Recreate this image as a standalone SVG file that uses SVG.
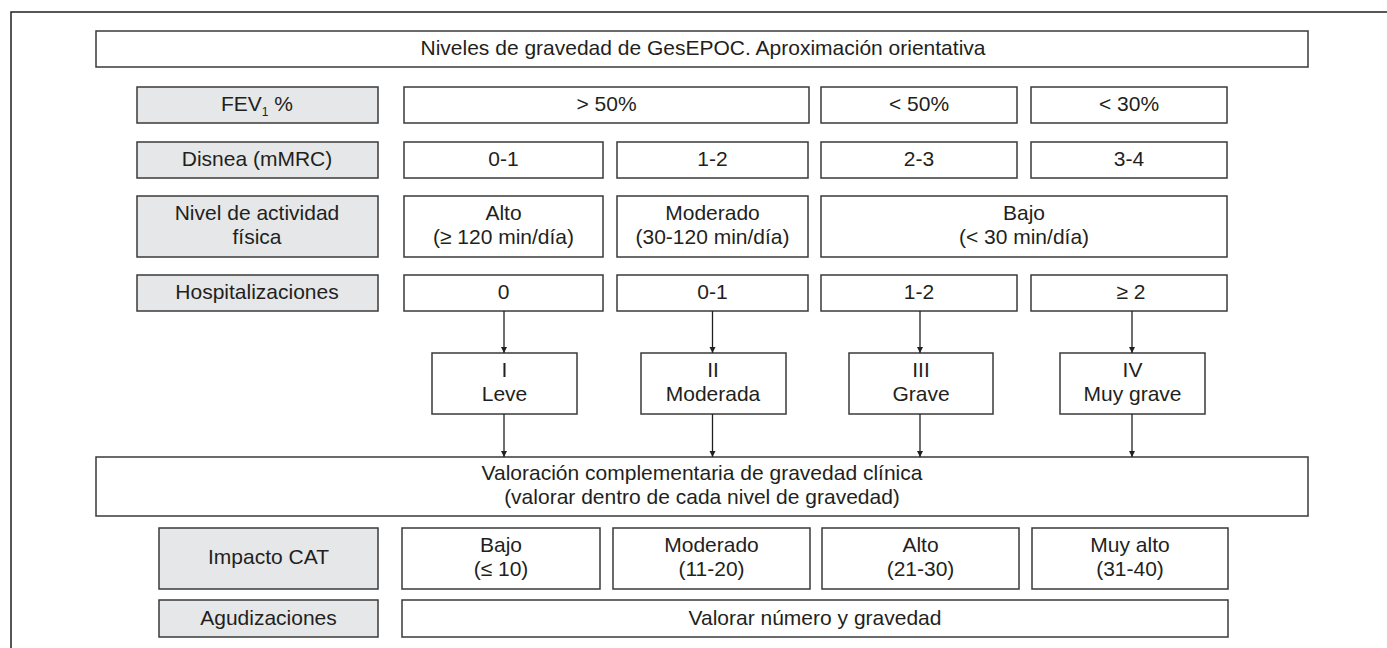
<svg xmlns="http://www.w3.org/2000/svg" width="1387" height="648" viewBox="0 0 1387 648">
<defs>
<style>
.b{fill:#fff;stroke:#3a3a3a;stroke-width:1.5}
.g{fill:#e6e7e8;stroke:#3a3a3a;stroke-width:1.5}
text{font-family:"Liberation Sans",Arial,sans-serif;font-size:21px;fill:#231f20;text-anchor:middle}
.c{stroke:#231f20;stroke-width:1.3;fill:none;marker-end:url(#ah)}
</style>
<marker id="ah" viewBox="0 0 10 10" refX="10" refY="5" markerWidth="6" markerHeight="10" markerUnits="userSpaceOnUse" orient="auto">
<path d="M0,0 L10,5 L0,10 z" fill="#231f20"/>
</marker>
</defs>
<rect width="1387" height="648" fill="#fff"/>
<path d="M11,648 L11,12 L1387,12" fill="none" stroke="#231f20" stroke-width="1.5"/>

<g id="title"><rect class="b" x="96" y="31" width="1212" height="36"/><text x="703" y="55">Niveles de gravedad de GesEPOC. Aproximación orientativa</text></g>

<g id="fev-label"><rect class="g" x="137" y="87" width="241" height="36"/><text x="257" y="111">FEV<tspan font-size="12" dy="5">1</tspan><tspan dy="-5"> %</tspan></text></g>
<g id="fev-gt50"><rect class="b" x="404" y="87" width="405" height="36"/><text x="606.5" y="111">&gt; 50%</text></g>
<g id="fev-lt50"><rect class="b" x="821" y="87" width="196" height="36"/><text x="919" y="111">&lt; 50%</text></g>
<g id="fev-lt30"><rect class="b" x="1031" y="87" width="196" height="36"/><text x="1129" y="111">&lt; 30%</text></g>

<g id="disnea-label"><rect class="g" x="137" y="142" width="241" height="36"/><text x="257" y="166">Disnea (mMRC)</text></g>
<g id="disnea-01"><rect class="b" x="404" y="142" width="199" height="36"/><text x="503.5" y="166">0-1</text></g>
<g id="disnea-12"><rect class="b" x="617" y="142" width="191" height="36"/><text x="712.5" y="166">1-2</text></g>
<g id="disnea-23"><rect class="b" x="821" y="142" width="196" height="36"/><text x="919" y="166">2-3</text></g>
<g id="disnea-34"><rect class="b" x="1031" y="142" width="196" height="36"/><text x="1129" y="166">3-4</text></g>

<g id="act-label"><rect class="g" x="137" y="196" width="241" height="61"/><text x="257" y="220">Nivel de actividad</text><text x="257" y="244">física</text></g>
<g id="act-alto"><rect class="b" x="404" y="196" width="199" height="61"/><text x="503.5" y="220">Alto</text><text x="503.5" y="244">(≥ 120 min/día)</text></g>
<g id="act-mod"><rect class="b" x="617" y="196" width="191" height="61"/><text x="712.5" y="220">Moderado</text><text x="712.5" y="244">(30-120 min/día)</text></g>
<g id="act-bajo"><rect class="b" x="821" y="196" width="406" height="61"/><text x="1024" y="220">Bajo</text><text x="1024" y="244">(&lt; 30 min/día)</text></g>

<g id="hosp-label"><rect class="g" x="137" y="275" width="241" height="36"/><text x="257" y="299">Hospitalizaciones</text></g>
<g id="hosp-0"><rect class="b" x="404" y="275" width="199" height="36"/><text x="503.5" y="299">0</text></g>
<g id="hosp-01"><rect class="b" x="617" y="275" width="191" height="36"/><text x="712.5" y="299">0-1</text></g>
<g id="hosp-12"><rect class="b" x="821" y="275" width="196" height="36"/><text x="919" y="299">1-2</text></g>
<g id="hosp-2"><rect class="b" x="1031" y="275" width="196" height="36"/><text x="1131" y="299">≥ 2</text></g>

<g id="sev-1"><rect class="b" x="432" y="353" width="145" height="61"/><text x="504.5" y="377">I</text><text x="504.5" y="401">Leve</text></g>
<g id="sev-2"><rect class="b" x="641" y="353" width="145" height="61"/><text x="713" y="377">II</text><text x="713" y="401">Moderada</text></g>
<g id="sev-3"><rect class="b" x="849" y="353" width="144" height="61"/><text x="921" y="377">III</text><text x="921" y="401">Grave</text></g>
<g id="sev-4"><rect class="b" x="1060" y="353" width="145" height="61"/><text x="1132.5" y="377">IV</text><text x="1132.5" y="401">Muy grave</text></g>

<g id="valoracion"><rect class="b" x="96" y="457" width="1212" height="59"/><text x="702" y="480">Valoración complementaria de gravedad clínica</text><text x="702" y="504">(valorar dentro de cada nivel de gravedad)</text></g>

<g id="cat-label"><rect class="g" x="159" y="528" width="219" height="61"/><text x="268.5" y="564">Impacto CAT</text></g>
<g id="cat-bajo"><rect class="b" x="402" y="528" width="198" height="61"/><text x="501" y="552">Bajo</text><text x="501" y="576">(≤ 10)</text></g>
<g id="cat-mod"><rect class="b" x="613" y="528" width="197" height="61"/><text x="711.5" y="552">Moderado</text><text x="711.5" y="576">(11-20)</text></g>
<g id="cat-alto"><rect class="b" x="822" y="528" width="197" height="61"/><text x="920.5" y="552">Alto</text><text x="920.5" y="576">(21-30)</text></g>
<g id="cat-muyalto"><rect class="b" x="1032" y="528" width="196" height="61"/><text x="1130" y="552">Muy alto</text><text x="1130" y="576">(31-40)</text></g>

<g id="agud-label"><rect class="g" x="159" y="600" width="219" height="37"/><text x="268.5" y="625">Agudizaciones</text></g>
<g id="agud-val"><rect class="b" x="402" y="600" width="826" height="37"/><text x="815" y="625">Valorar número y gravedad</text></g>

<g id="connectors">
<line class="c" x1="504" y1="311" x2="504" y2="353"/>
<line class="c" x1="712.5" y1="311" x2="712.5" y2="353"/>
<line class="c" x1="920" y1="311" x2="920" y2="353"/>
<line class="c" x1="1132" y1="311" x2="1132" y2="353"/>
<line class="c" x1="504" y1="414" x2="504" y2="457"/>
<line class="c" x1="712.5" y1="414" x2="712.5" y2="457"/>
<line class="c" x1="920" y1="414" x2="920" y2="457"/>
<line class="c" x1="1132" y1="414" x2="1132" y2="457"/>
</g>
</svg>
